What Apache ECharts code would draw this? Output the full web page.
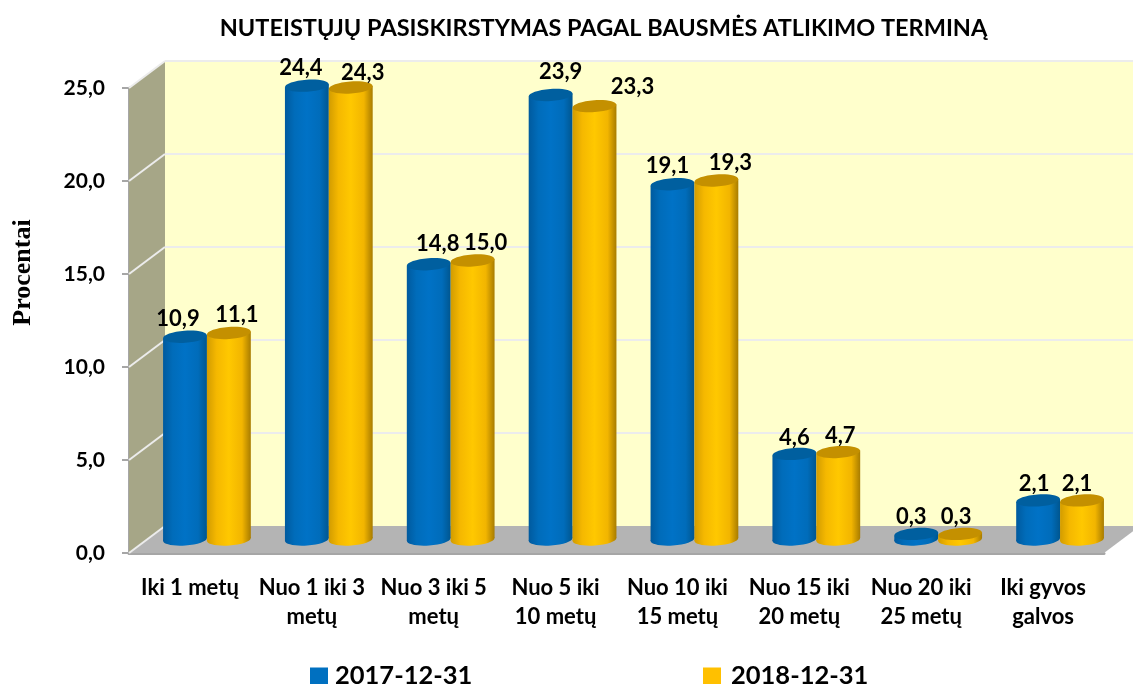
<!DOCTYPE html>
<html>
<head>
<meta charset="utf-8">
<style>
  html, body { margin: 0; padding: 0; background: #fff; }
  #chart { width: 1133px; height: 684px; }
</style>
<script src="https://cdn.jsdelivr.net/npm/echarts@6/dist/echarts.min.js"></script>
</head>
<body>
<div id="chart"></div>
<script>
const categories = [
  'Iki 1 metų',
  'Nuo 1 iki 3\nmetų',
  'Nuo 3 iki 5\nmetų',
  'Nuo 5 iki\n10 metų',
  'Nuo 10 iki\n15 metų',
  'Nuo 15 iki\n20 metų',
  'Nuo 20 iki\n25 metų',
  'Iki gyvos\ngalvos'
]
const values2017 = [10.9, 24.4, 14.8, 23.9, 19.1, 4.6, 0.3, 2.1]
const values2018 = [11.1, 24.3, 15.0, 23.3, 19.3, 4.7, 0.3, 2.1]
const yTicks = [0, 5, 10, 15, 20, 25]

// hand placed labels in the original, [dx, dy] from the top of each bar
const labelNudge2017 = [[-7, -18], [-6, -18], [9, -20], [10, -23], [-5, -18], [0, -16], [-5, -17], [-4, -17]]
const labelNudge2018 = [[8, -18], [12, -15], [13, -18], [38, -19], [14, -18], [2, -16], [-4, -17], [-5, -17]]

const DEPTH_X = 36
const DEPTH_Y = 27
const FONT = 'Lato, "Open Sans", sans-serif'

const fmt = (v) => v.toFixed(1).replace('.', ',')

const sideGradient = (stops) => new echarts.graphic.LinearGradient(0, 0, 1, 0, stops)

const styles = {
  blue: {
    body: sideGradient([
      { offset: 0, color: '#005a9e' },
      { offset: 0.22, color: '#006cba' },
      { offset: 0.5, color: '#0072c6' },
      { offset: 0.8, color: '#006cba' },
      { offset: 1, color: '#00568f' },
    ]),
    top: '#005f9f',
  },
  gold: {
    body: sideGradient([
      { offset: 0, color: '#d29c00' },
      { offset: 0.22, color: '#f5b800' },
      { offset: 0.5, color: '#ffc800' },
      { offset: 0.8, color: '#f2b500' },
      { offset: 1, color: '#a87c00' },
    ]),
    top: '#c49000',
  },
}

// back wall, side wall, floor and their grid lines
const renderWalls = (params, api) => {
  const zero = api.coord([0, 0])
  const left = zero[0] - api.size([1, 0])[0] / 2
  const right = left + api.size([1, 0])[0] * categories.length
  const bottom = zero[1]
  const top = api.coord([0, yTicks[yTicks.length - 1]])[1]
  const children = [
    {
      type: 'rect',
      shape: { x: left + DEPTH_X, y: top - DEPTH_Y, width: right - left, height: bottom - top },
      style: { fill: '#ffffcc' },
    },
    {
      type: 'polygon',
      shape: { points: [[left, bottom], [left + DEPTH_X, bottom - DEPTH_Y], [left + DEPTH_X, top - DEPTH_Y], [left, top]] },
      style: { fill: '#a6a687' },
    },
    {
      type: 'polygon',
      shape: { points: [[left, bottom], [left + DEPTH_X, bottom - DEPTH_Y], [right + DEPTH_X, bottom - DEPTH_Y], [right, bottom]] },
      style: { fill: '#b4b4b4' },
    },
  ]
  yTicks.forEach((t) => {
    const y = api.coord([0, t])[1]
    const lineStyle = { stroke: '#ececec', lineWidth: 2 }
    children.push({ type: 'line', shape: { x1: left, y1: y, x2: left + DEPTH_X, y2: y - DEPTH_Y }, style: lineStyle })
    if (t > 0) {
      children.push({ type: 'line', shape: { x1: left + DEPTH_X, y1: y - DEPTH_Y, x2: right + DEPTH_X, y2: y - DEPTH_Y }, style: lineStyle })
    }
  })
  return { type: 'group', children }
}

const makeCylinder = (look, side, nudges) => (params, api) => {
  const idx = api.value(0)
  const val = api.value(1)
  const band = api.size([1, 0])[0]
  const r = band * 0.18
  const base = api.coord([idx, 0])
  const head = api.coord([idx, val])
  const cx = base[0] + DEPTH_X / 2 - 1 + side * r
  const yBase = base[1] - DEPTH_Y / 2
  const yTop = head[1] - DEPTH_Y / 2
  const ry = 6
  const tilt = 0.07
  const nudge = nudges[idx]
  const ell = (cy, fill) => ({
    type: 'ellipse',
    shape: { cx, cy, rx: r, ry },
    originX: cx,
    originY: cy,
    rotation: tilt,
    style: { fill },
  })
  return {
    type: 'group',
    children: [
      ell(yBase, look.body),
      {
        type: 'polygon',
        shape: { points: [[cx - r, yTop + 1.5], [cx + r, yTop - 1.5], [cx + r, yBase - 1.5], [cx - r, yBase + 1.5]] },
        style: { fill: look.body },
      },
      ell(yTop, look.top),
      {
        type: 'text',
        style: {
          text: fmt(val),
          x: cx + nudge[0],
          y: yTop + nudge[1],
          align: 'center',
          verticalAlign: 'middle',
          font: 'bold 22px ' + FONT,
          fill: '#000',
        },
      },
    ],
  }
}

const legendText = { fontFamily: FONT, fontSize: 25.5, fontWeight: 'bold', color: '#000' }

const chart = echarts.init(document.getElementById('chart'))
chart.setOption({
  animation: false,
  backgroundColor: '#fff',
  title: {
    text: 'NUTEISTŲJŲ PASISKIRSTYMAS PAGAL BAUSMĖS ATLIKIMO TERMINĄ',
    left: 598.5,
    top: 11,
    textAlign: 'center',
    textStyle: { fontFamily: FONT, fontSize: 23.5, fontWeight: 'bold', color: '#000' },
  },
  legend: [
    {
      data: ['2017-12-31'],
      left: 305,
      top: 658,
      icon: 'rect',
      itemWidth: 18,
      itemHeight: 17,
      selectedMode: false,
      textStyle: { ...legendText, padding: [0, 0, 0, 2] },
    },
    {
      data: ['2018-12-31'],
      left: 698,
      top: 658,
      icon: 'rect',
      itemWidth: 18,
      itemHeight: 17,
      selectedMode: false,
      textStyle: { ...legendText, padding: [0, 0, 0, 5] },
    },
  ],
  grid: { left: 129, right: 29, top: 88, bottom: 131, outerBoundsMode: 'none' },
  xAxis: {
    type: 'category',
    data: categories,
    axisLine: { lineStyle: { color: '#a6a6a6', width: 3 } },
    axisTick: { length: 7, lineStyle: { color: '#a6a6a6', width: 2 } },
    axisLabel: { color: '#000', fontFamily: FONT, fontSize: 22, fontWeight: 'bold', lineHeight: 29, margin: 20, interval: 0 },
  },
  yAxis: {
    type: 'value',
    min: 0,
    max: 25,
    interval: 5,
    name: 'Procentai',
    nameLocation: 'middle',
    nameGap: 93,
    nameTextStyle: { fontFamily: '"Liberation Serif", serif', fontSize: 26, fontWeight: 'bold', color: '#000', padding: [0, 0, 0, 96] },
    splitLine: { show: false },
    axisLine: { show: true, lineStyle: { color: '#a6a6a6', width: 3 } },
    axisTick: { show: true, length: 7, lineStyle: { color: '#a6a6a6', width: 2 } },
    axisLabel: { color: '#000', fontFamily: FONT, fontSize: 21, fontWeight: 'bold', margin: 24, padding: [10, 0, 0, 0], formatter: (v) => fmt(v) },
  },
  series: [
    {
      type: 'custom',
      name: 'walls',
      silent: true,
      z: 1,
      data: [[0, 0]],
      renderItem: renderWalls,
    },
    {
      type: 'custom',
      name: '2017-12-31',
      z: 3,
      itemStyle: { color: '#0070c0' },
      data: values2017.map((v, i) => [i, v]),
      renderItem: makeCylinder(styles.blue, -1, labelNudge2017),
    },
    {
      type: 'custom',
      name: '2018-12-31',
      z: 4,
      itemStyle: { color: '#ffc000' },
      data: values2018.map((v, i) => [i, v]),
      renderItem: makeCylinder(styles.gold, 1, labelNudge2018),
    },
  ],
})
</script>
</body>
</html>
